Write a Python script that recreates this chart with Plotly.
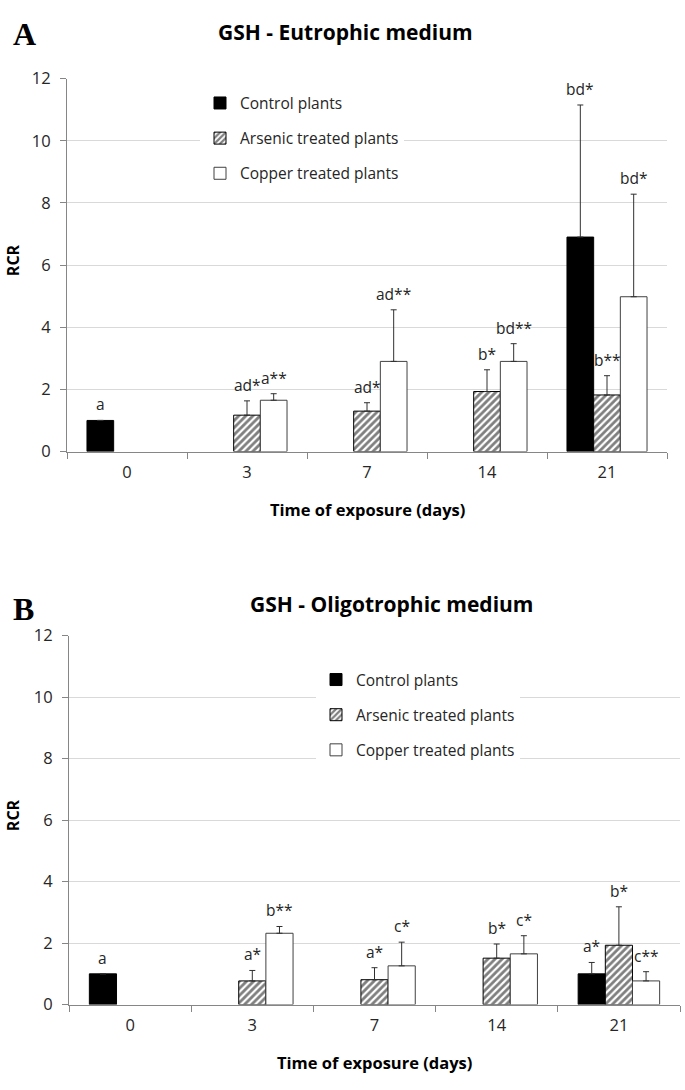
import plotly.graph_objects as go

# ---------------- data ----------------
days = ["0", "3", "7", "14", "21"]
series_names = ["Control plants", "Arsenic treated plants", "Copper treated plants"]

# Panel A - Eutrophic medium
a_control = [1.0, None, None, None, 6.9]
a_control_err = [None, None, None, None, 4.25]
a_arsenic = [None, 1.17, 1.30, 1.93, 1.82]
a_arsenic_err = [None, 0.46, 0.27, 0.70, 0.62]
a_copper = [None, 1.65, 2.90, 2.90, 4.98]
a_copper_err = [None, 0.21, 1.66, 0.57, 3.30]
a_control_lbl = ["a", "", "", "", "bd*"]
a_arsenic_lbl = ["", "ad*", "ad*", "b*", "b**"]
a_copper_lbl = ["", "a**", "ad**", "bd**", "bd*"]

# Panel B - Oligotrophic medium
b_control = [1.0, None, None, None, 1.0]
b_control_err = [None, None, None, None, 0.37]
b_arsenic = [None, 0.77, 0.81, 1.51, 1.93]
b_arsenic_err = [None, 0.34, 0.39, 0.46, 1.25]
b_copper = [None, 2.32, 1.26, 1.65, 0.77]
b_copper_err = [None, 0.22, 0.77, 0.59, 0.30]
b_control_lbl = ["a", "", "", "", "a*"]
b_arsenic_lbl = ["", "a*", "a*", "b*", "b*"]
b_copper_lbl = ["", "b**", "c*", "c*", "c**"]

y_ticks = [0, 2, 4, 6, 8, 10, 12]

# ---------------- style ----------------
W, H = 685, 1090
FONT = "Open Sans"
AXIS_GRAY = "#868686"
GRID = "#d9d9d9"
TXT = "#262626"
BARGAP = 0.333

# plot areas in px (left, right, top, bottom)
A_BOX = (67, 667, 68, 449)
B_BOX = (69, 680, 637, 1014)


def dom(box):
    l, r, t, b = box
    return [l / W, r / W], [(H - b) / H, (H - t) / H]


styles = [
    dict(marker=dict(color="black", line=dict(color="black", width=1))),
    dict(marker=dict(color="white",
                     pattern=dict(shape="/", fgcolor="black", bgcolor="white",
                                  size=5, solidity=0.55),
                     line=dict(color="black", width=1))),
    dict(marker=dict(color="white", line=dict(color="#404040", width=1))),
]

fig = go.Figure()
annotations = []


def add_panel(vals, errs, lbls, xa, ya, legend, box):
    l, r, t, b = box
    bar_px = (r - l) / len(days) * (1 - BARGAP) / 3
    for k, (v, e, lb) in enumerate(zip(vals, errs, lbls)):
        fig.add_trace(go.Bar(
            x=days, y=v, name=series_names[k],
            xaxis=xa, yaxis=ya, legend=legend, legendgroup=f"{legend}{k}",
            error_y=dict(type="data", symmetric=False, array=e,
                         arrayminus=[0 if x is not None else None for x in e],
                         color="#303030", thickness=1, width=3),
            **styles[k],
        ))
        for i, txt in enumerate(lb):
            if not txt:
                continue
            top = v[i] + (e[i] or 0)
            annotations.append(dict(
                x=i, y=top, xref=xa, yref=ya,
                text=txt, showarrow=False, yanchor="bottom", xanchor="center",
                xshift=(k - 1) * bar_px, yshift=3,
                font=dict(family=FONT, size=15.5, color=TXT)))


add_panel([a_control, a_arsenic, a_copper],
          [a_control_err, a_arsenic_err, a_copper_err],
          [a_control_lbl, a_arsenic_lbl, a_copper_lbl], "x", "y", "legend", A_BOX)
add_panel([b_control, b_arsenic, b_copper],
          [b_control_err, b_arsenic_err, b_copper_err],
          [b_control_lbl, b_arsenic_lbl, b_copper_lbl], "x2", "y2", "legend2", B_BOX)

axx = dict(type="category", tickson="boundaries", ticks="outside", ticklen=6,
           tickcolor=AXIS_GRAY, showline=True, linecolor=AXIS_GRAY, linewidth=1,
           showgrid=False, tickfont=dict(family=FONT, size=16.5, color=TXT),
           categoryorder="array", categoryarray=days, range=[-0.5, len(days) - 0.5],
           tickangle=0, fixedrange=True, ticklabelstandoff=6)
axy = dict(range=[0, 12], tickvals=y_ticks, ticks="outside", ticklen=6,
           tickcolor=AXIS_GRAY, showline=True, linecolor=AXIS_GRAY, linewidth=1,
           showgrid=True, gridcolor=GRID, gridwidth=1, zeroline=False,
           tickfont=dict(family=FONT, size=16.5, color=TXT), ticklabelstandoff=6)

xdA, ydA = dom(A_BOX)
xdB, ydB = dom(B_BOX)

# panel titles and axis titles
for (lbl, lx, ly, title, tx, ty, box) in [
    ("A", 25, 22, "GSH - Eutrophic medium", 345, 20, A_BOX),
    ("B", 23, 610, "GSH - Oligotrophic medium", 392, 605, B_BOX),
]:
    l, r, t, b = box
    common = dict(xref="paper", yref="paper", showarrow=False,
                  xanchor="center", yanchor="middle")
    annotations.append(dict(x=lx / W, y=1 - ly / H, text=f"<b>{lbl}</b>",
                            font=dict(family="Liberation Serif", size=32, color="black"),
                            **common))
    annotations.append(dict(x=tx / W, y=1 - ty / H, text=f"<b>{title}</b>",
                            font=dict(family=FONT, size=21, color="black"), **common))
    annotations.append(dict(x=13 / W, y=1 - ((t + b) / 2 - 5) / H, text="<b>RCR</b>",
                            textangle=-90,
                            font=dict(family=FONT, size=16, color="black"), **common))
    annotations.append(dict(x=((l + r) / 2) / W, y=1 - (b + 59) / H,
                            text="<b>Time of exposure (days)</b>",
                            font=dict(family=FONT, size=16.5, color="black"), **common))

leg = dict(bgcolor="white", borderwidth=0, xanchor="left", yanchor="top",
           traceorder="grouped", tracegroupgap=12, itemwidth=30,
           font=dict(family=FONT, size=15.5, color=TXT))

fig.update_layout(
    width=W, height=H, margin=dict(l=0, r=0, t=0, b=0),
    paper_bgcolor="white", plot_bgcolor="white",
    barmode="group", bargap=BARGAP, bargroupgap=0,
    showlegend=True,
    xaxis=dict(domain=xdA, anchor="y", **axx),
    yaxis=dict(domain=ydA, anchor="x", **axy),
    xaxis2=dict(domain=xdB, anchor="y2", **axx),
    yaxis2=dict(domain=ydB, anchor="x2", **axy),
    legend=dict(x=200 / W, y=1 - 76 / H, **leg),
    legend2=dict(x=316 / W, y=1 - 665 / H, **leg),
    annotations=annotations,
)

fig.write_html("out.html")
